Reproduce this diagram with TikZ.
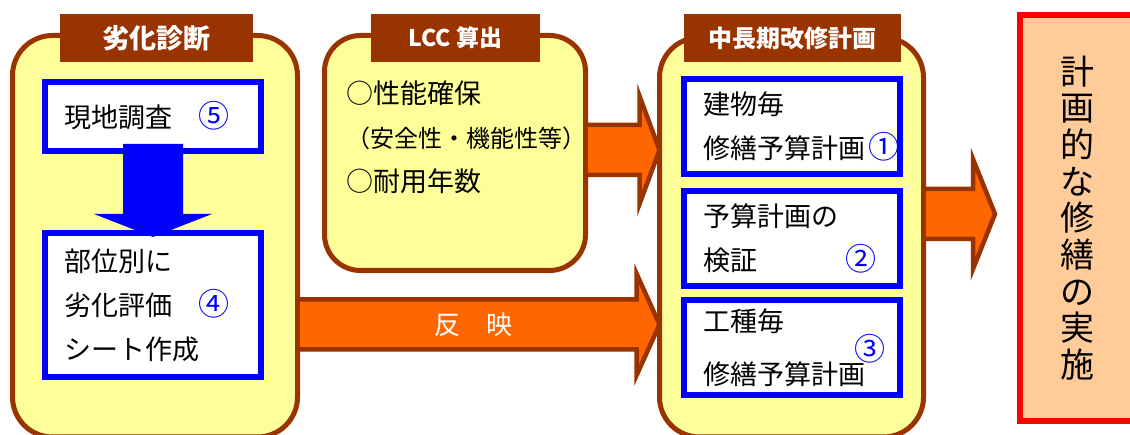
\documentclass[tikz,border=0pt]{standalone}
\usepackage{fontspec}
\setmainfont{Noto Sans CJK JP}
\usepackage{xcolor}
\usetikzlibrary{positioning,calc}

\definecolor{rustbrown}{HTML}{993300}
\definecolor{paleyellow}{HTML}{FFFF99}
\definecolor{arroworange}{HTML}{FF6600}
\definecolor{peach}{HTML}{FFCC99}

% fat arrow: from, to, shaft half, head half, head length
\newcommand{\fatarrow}[5]{%
  \draw[fatarrow] ($(#1)+(0,#3)$) -- ($(#2)+(-#5,#3)$) -- ($(#2)+(-#5,#4)$) -- (#2)
    -- ($(#2)+(-#5,-#4)$) -- ($(#2)+(-#5,-#3)$) -- ($(#1)+(0,-#3)$) -- cycle;}
\newcommand{\circnum}[1]{{\color{blue}\fontsize{31}{31}\selectfont #1}}

\begin{document}
\begin{tikzpicture}[x=1pt, y=1pt,
    group/.style={draw=rustbrown, line width=5pt, fill=paleyellow, rounded corners=40pt,
      minimum width=#1, inner sep=0pt, outer sep=0pt},
    tab/.style={fill=rustbrown, text=white, minimum height=48pt, inner sep=0pt, outer sep=0pt},
    itembox/.style={draw=blue, line width=6pt, fill=white, minimum width=216pt, text width=178pt,
      align=left, inner sep=0pt, outer sep=0pt, font=\fontsize{27}{44}\selectfont},
    fatarrow/.style={draw=rustbrown, fill=arroworange, line width=4.5pt, line join=miter},
    reflabel/.style={text=white, font=\fontsize{26}{26}\selectfont}]
    \useasboundingbox (0,0) rectangle (1130,-435);
    \clip (0,0) rectangle (1130,-435);

    % Nodes
    \node[group=285pt, minimum height=401.5pt] (diag) at (155,-236.25) {};
    \node[tab, minimum width=193pt, font=\bfseries\fontsize{27}{27}\selectfont] (diagtab) at (156.5,-38) {劣化診断};
    \node[itembox, minimum height=69pt] (survey) at (153,-116.5) {\raisebox{5pt}{現地調査\hspace{26pt}\circnum{⑤}}};
    \node[itembox, minimum height=144pt, below=82pt of survey] (eval) {部位別に\\劣化評価\hspace{26pt}\circnum{④}\\シート作成};

    \node[group=261pt, minimum height=235pt, rounded corners=36pt] (lcc) at (455,-153) {};
    \node[tab, minimum width=169pt, font=\bfseries\fontsize{23}{23}\selectfont] (lcctab) at (455.5,-38) {LCC 算出};
    \node[anchor=north west, align=left, inner sep=0pt, font=\fontsize{27}{44}\selectfont] (lcctext)
      at ($(lcc.north west)+(21.5,-45.5)$) {○性能確保\\{\fontsize{24}{44}\selectfont （安全性・機能性等）}\\○耐用年数};

    \node[group=264pt, minimum height=399.5pt] (plan) at (791.5,-237.25) {};
    \node[tab, minimum width=217pt, font=\bfseries\fontsize{24}{24}\selectfont] (plantab) at (792.5,-38) {中長期改修計画};
    \node[itembox, minimum height=95pt] (bldg) at (792,-126.5) {建物毎\\修繕予算計画\rlap{\hspace{3pt}\circnum{①}}};
    \node[itembox, minimum height=95pt, below=17pt of bldg] (verify) {予算計画の\\検証\hspace{88pt}\circnum{②}};
    \node[itembox, minimum height=95pt, below=14pt of verify] (trade) {工種毎\\修繕予算計画\rlap{\hspace{-11pt}\raisebox{24pt}{\circnum{③}}}};

    \node[draw=red, line width=6pt, fill=peach, minimum width=114pt, minimum height=406pt,
      align=center, font=\fontsize{34}{36.7}\selectfont] (exec) at (1077,-218)
      {計\\画\\的\\な\\修\\繕\\の\\実\\施};

    % Arrows
    \fill[blue] ($(survey.south)+(-30,7)$) -- ($(eval.north)+(-30,19)$) -- ($(eval.north)+(-59,19)$)
      -- ($(eval.north)+(0,-4)$) -- ($(eval.north)+(59,19)$) -- ($(eval.north)+(30,19)$)
      -- ($(survey.south)+(30,7)$) -- cycle;

    \coordinate (lcc out) at ($(lcc.east)+(0,3)$);
    \coordinate (lcc in) at (plan.west |- lcc out);
    \fatarrow{lcc out}{lcc in}{25}{54}{20}

    \coordinate (diag out) at ($(diag.east |- eval.center)+(0,-19.5)$);
    \coordinate (diag in) at (plan.west |- diag out);
    \fatarrow{diag out}{diag in}{25}{51}{23}
    \path (diag out) -- (diag in) node[pos=0.485, reflabel] (reflect) {反　映};

    \coordinate (plan out) at ($(plan.east |- exec.center)+(0,4)$);
    \coordinate (plan in) at ($(exec.west |- plan out)+(-22,0)$);
    \fatarrow{plan out}{plan in}{25}{55}{22}
\end{tikzpicture}
\end{document}
